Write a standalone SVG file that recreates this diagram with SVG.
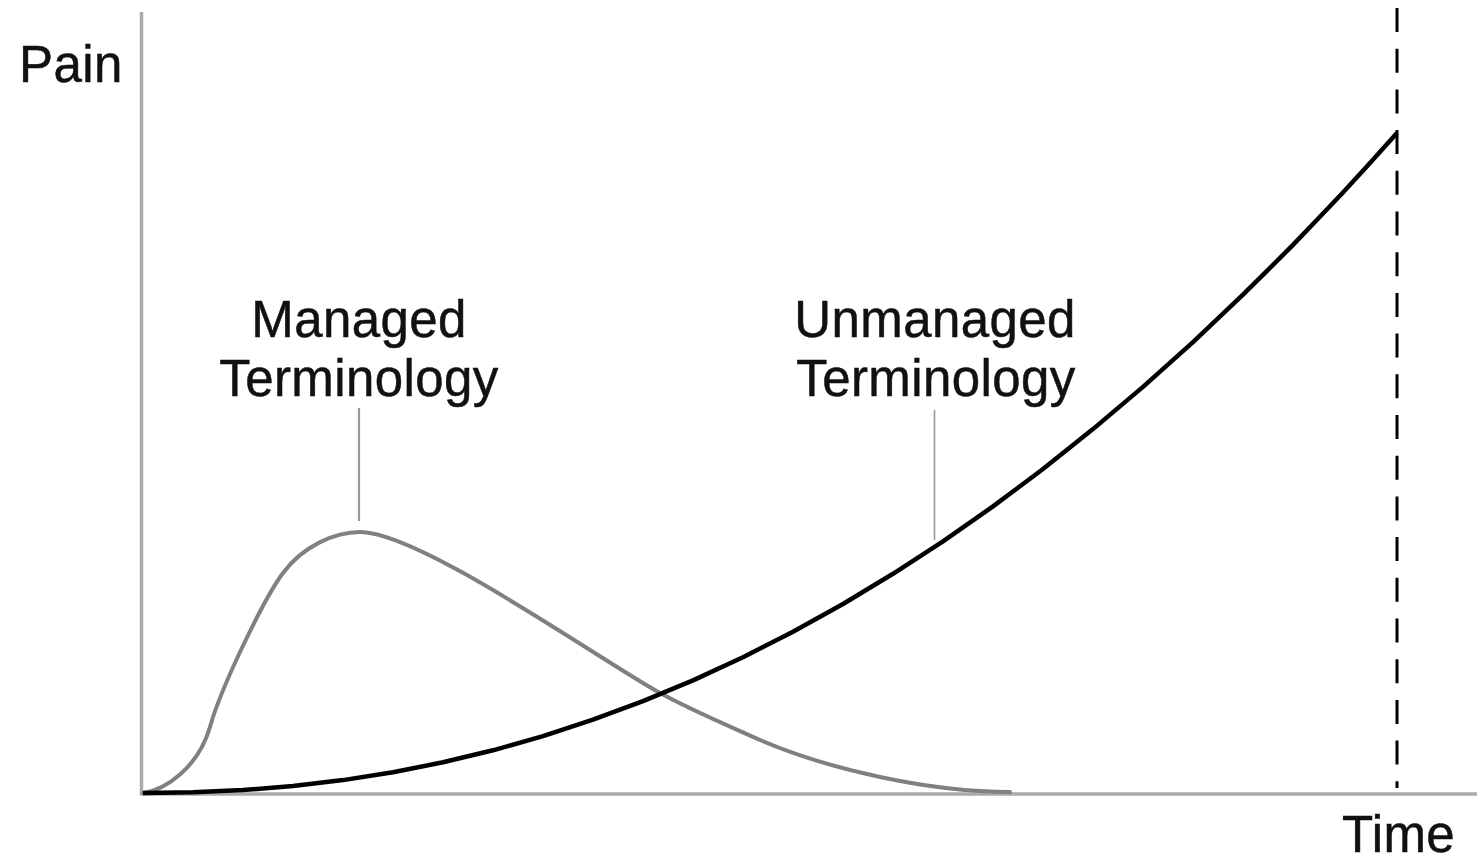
<svg xmlns="http://www.w3.org/2000/svg" width="1477" height="862" viewBox="0 0 1477 862">
<style>
  .lbl { font-family: "Liberation Sans", Arial, Helvetica, sans-serif; font-size: 51px; fill: #111; stroke: #111; stroke-width: 0.5; letter-spacing: 0.4px; }
  .axis { stroke: #aaaaaa; stroke-width: 3.5; fill: none; }
  .leader { stroke: #999999; fill: none; }
  .managed { stroke: #808080; stroke-width: 4; fill: none; stroke-linecap: round; stroke-linejoin: round; }
  .unmanaged { stroke: #000; stroke-width: 4.5; fill: none; stroke-linecap: butt; stroke-linejoin: round; }
  .limit { stroke: #000; stroke-width: 3; stroke-dasharray: 24 16.7; fill: none; }
</style>
<rect width="1477" height="862" fill="#fff"/>
<g id="axes">
  <line class="axis" x1="141.5" y1="12" x2="141.5" y2="795"/>
  <line class="axis" x1="140" y1="794" x2="1477" y2="794"/>
  <text id="y-label" class="lbl" x="19" y="82" font-size="49">Pain</text>
  <text id="x-label" class="lbl" x="1342" y="852" font-size="50">Time</text>
</g>
<g id="limit-line">
  <line class="limit" x1="1397" y1="8" x2="1397" y2="788"/>
</g>
<g id="connectors">
  <path id="managed-curve" class="managed" d="M143,793 C165,790 198,768 210,727 C220,690 263,600 283,573 C303,546 335,532 360,532 C420,532 600,660 660,693 C693,711 727,725 760,740 C830,770 930,792 1010,792"/>
  <path id="unmanaged-curve" class="unmanaged" d="M143,793 L193,792.3 L243,790.1 L293,786.1 L343,780.1 L393,772.2 L443,762.3 L493,750.3 L543,736.1 L593,719.7 L643,701.2 L693,680.4 L743,657.2 L793,631.8 L843,604 L893,573.8 L943,541.3 L993,506.4 L1043,469 L1093,429.1 L1143,386.9 L1193,342.1 L1243,294.7 L1268,269.9 L1293,244.9 L1318,218.8 L1343,192.5 L1370,163 L1397,133"/>
  <line id="managed-leader" class="leader" stroke-width="2.2" x1="359" y1="408" x2="359" y2="521"/>
  <line id="unmanaged-leader" class="leader" stroke-width="1.6" x1="934.5" y1="410" x2="934.5" y2="540"/>
</g>
<g id="managed-label">
  <text class="lbl" x="359" y="337" text-anchor="middle">Managed</text>
  <text class="lbl" x="359" y="396" text-anchor="middle">Terminology</text>
</g>
<g id="unmanaged-label">
  <text class="lbl" x="935" y="337" text-anchor="middle">Unmanaged</text>
  <text class="lbl" x="936" y="396" text-anchor="middle">Terminology</text>
</g>
</svg>
